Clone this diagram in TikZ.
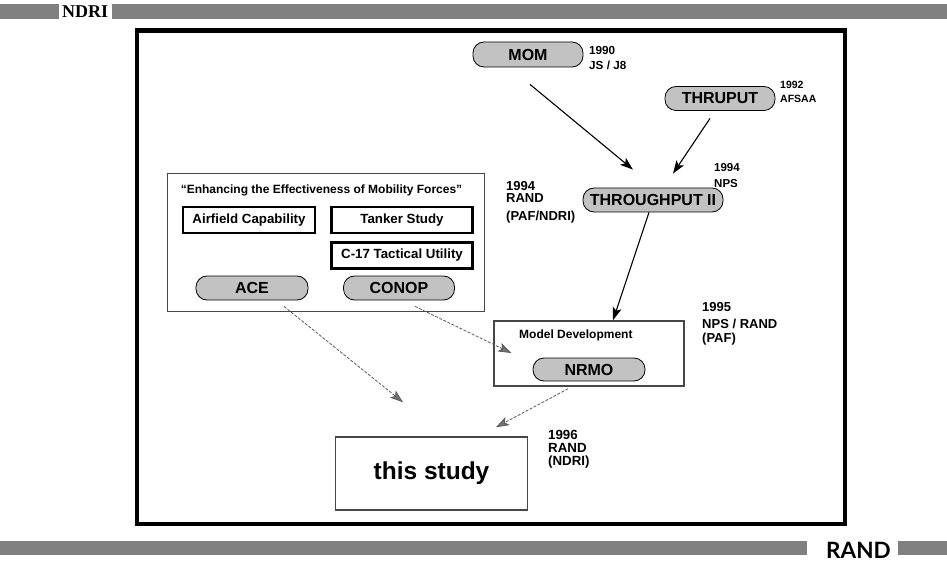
\documentclass[tikz,border=0pt]{standalone}
\usepackage{fontspec}
\setmainfont{Liberation Sans}
\newfontfamily\serifhd{Liberation Serif}
\newfontfamily\randfont{Lato}
\usetikzlibrary{arrows.meta,calc}
\newcommand{\fsz}[1]{\fontsize{#1}{#1}\selectfont}
\begin{document}
\begin{tikzpicture}[x=1pt,y=-1pt,
  bar/.style={fill=black!50},
  oval/.style={draw=black, line width=0.8pt, fill=black!24, rounded corners=11pt,
    inner sep=0pt, font=\bfseries\fsz{16}},
  inbox/.style={draw=black, line width=2.4pt, inner sep=0pt, font=\bfseries\fsz{13.3}},
  outbox/.style={draw=black!72, line width=1.5pt, inner sep=0pt},
  lbl/.style={inner sep=0pt, font=\bfseries\fsz{13}, align=left, anchor=north west},
  arr/.style={line width=1.1pt, -{Stealth[length=13pt,width=9pt,inset=3pt]}},
  darr/.style={line width=0.8pt, draw=black!65, dash pattern=on 3pt off 1.5pt,
    -{Stealth[length=13pt,width=9pt,inset=3pt,fill=black!55,color=black!65]}}
]
\useasboundingbox (0,0) rectangle (947,561);
% header
\fill[bar] (0,4) rectangle (59,19);
\node[inner sep=0pt, anchor=west, font=\serifhd\bfseries\fsz{18}] (ndri) at (62,12) {NDRI};
\fill[bar] (112,4) rectangle (947,19);
% footer
\fill[bar] (0,541) rectangle (807,555);
\node[inner sep=0pt, anchor=base west, font=\randfont\bfseries\fsz{22.5}] (rand) at (826,558) {RAND};
\fill[bar] (898,541) rectangle (947,555);
% frame
\draw[line width=4.5pt] (137,30.5) rectangle (845,524);

% top ovals
\node[oval, minimum width=110pt, minimum height=25pt] (mom) at (528,54.5) {MOM};
\node[lbl, font=\bfseries\fsz{11.7}] (l1990) at (589,46.5) {1990\\[3pt]JS / J8};
\node[oval, minimum width=110pt, minimum height=24pt] (thruput) at (720,98.5) {THRUPUT};
\node[lbl, font=\bfseries\fsz{10.5}] (l1992) at (780,80.5) {1992\\[4pt]AFSAA};
\node[oval, minimum width=140pt, minimum height=24pt] (tp2) at (653,200) {THROUGHPUT II};
\node[lbl, font=\bfseries\fsz{11.5}] (l1994n) at (714,163) {1994\\[4.5pt]NPS};
\node[lbl] (l1994r) at (506,181) {1994\\[-1pt]RAND\\[5pt](PAF/NDRI)};

% mobility box
\node[outbox, minimum width=317pt, minimum height=138pt] (mob) at (326,242.5) {};
\node[inner sep=0pt, font=\bfseries\fsz{12}] (mobt) at (321.5,190.5) {``Enhancing the Effectiveness of Mobility Forces''};
\node[inbox, minimum width=132pt, minimum height=26pt] (air) at (249,220) {Airfield Capability};
\node[inbox, minimum width=141pt, minimum height=26pt] (tank) at (402,220) {Tanker Study};
\node[inbox, minimum width=141pt, minimum height=26pt] (c17) at (402,255.5) {C-17 Tactical Utility};
\node[oval, minimum width=112pt, minimum height=24pt] (ace) at (252,288) {ACE};
\node[oval, minimum width=111pt, minimum height=24pt] (conop) at (399,288) {CONOP};

% model development
\node[outbox, minimum width=190pt, minimum height=65pt] (mdev) at (589,353.5) {};
\node[inner sep=0pt, anchor=west, font=\bfseries\fsz{12}] (mdevt) at (519,335.5) {Model Development};
\node[oval, minimum width=112pt, minimum height=23pt] (nrmo) at (589,369.5) {NRMO};
\node[lbl] (l1995) at (702,302) {1995\\[4pt]NPS / RAND\\[1pt](PAF)};

% this study
\node[outbox, minimum width=192pt, minimum height=73pt, font=\bfseries\fsz{24.5}] (study) at (431.5,473.5) {this study};
\node[lbl, font=\bfseries\fsz{13.3}] (l1996) at (548,430) {1996\\[-0.5pt]RAND\\[-0.5pt](NDRI)};

% connectors
\draw[arr] ($(mom.south)+(2,17)$) -- ($(tp2.north)+(-20,-18)$);
\draw[arr] ($(thruput.south)+(-10,7.5)$) -- ($(tp2.north)+(20,-14)$);
\draw[arr] ($(tp2.south)+(-4,0)$) -- ($(mdev.north)+(24,0)$);
\draw[darr] ($(ace.south)+(32,6)$) -- ($(study.north)+(-28.5,-34)$);
\draw[darr] ($(conop.south)+(16,6)$) -- ($(mdev.west)+(18,-0.5)$);
\draw[darr] ($(mdev.south)+(-21,2)$) -- ($(study.north)+(64.5,-9)$);
\end{tikzpicture}
\end{document}
